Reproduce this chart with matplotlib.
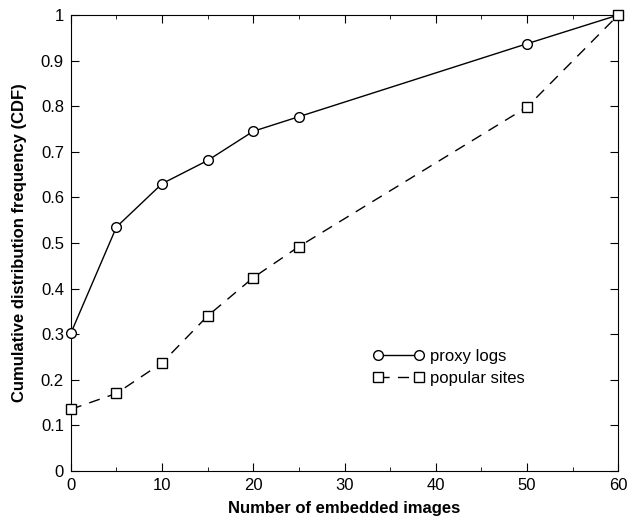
import matplotlib.pyplot as plt
from matplotlib.ticker import MultipleLocator

plt.rcParams['font.family'] = ['Liberation Sans', 'DejaVu Sans']

# number of embedded images
images = [0, 5, 10, 15, 20, 25, 50, 60]
proxy_logs = [0.302, 0.535, 0.630, 0.681, 0.745, 0.777, 0.937, 1.0]
popular_sites = [0.135, 0.170, 0.237, 0.340, 0.424, 0.492, 0.798, 1.0]
ytick_labels = ['0', '0.1', '0.2', '0.3', '0.4', '0.5', '0.6', '0.7', '0.8', '0.9', '1']

fig = plt.figure(figsize=(6.27, 5.18), dpi=100)
ax = fig.add_axes([0.113, 0.091, 0.873, 0.880])

ax.plot(images, proxy_logs, color='black', lw=1.0, marker='o', ms=7,
        mfc='white', mec='black', mew=1.0, label='proxy logs', clip_on=False, zorder=3)
ax.plot(images, popular_sites, color='black', lw=1.0, ls=(0, (8, 6)), marker='s', ms=6.5,
        mfc='white', mec='black', mew=1.0, label='popular sites', clip_on=False, zorder=3)

ax.set_xlim(0, 60)
ax.set_ylim(0, 1)
ax.xaxis.set_major_locator(MultipleLocator(10))
ax.xaxis.set_minor_locator(MultipleLocator(5))
ax.set_yticks([i / 10 for i in range(11)])
ax.set_yticklabels(ytick_labels)
ax.tick_params(which='both', direction='in', top=True, right=True, labelsize=12)
ax.tick_params(which='major', length=6, pad=5)
ax.tick_params(which='minor', length=3)

ax.set_xlabel('Number of embedded images', fontsize=12, fontweight='bold', labelpad=6)
ax.set_ylabel('Cumulative distribution frequency (CDF)', fontsize=12, fontweight='bold', labelpad=10)

ax.legend(loc='upper left', bbox_to_anchor=(0.524, 0.30), frameon=False, numpoints=2,
          handlelength=3.05, fontsize=12, handletextpad=0.4, labelspacing=0.4)

fig.savefig('out.png', dpi=100)
